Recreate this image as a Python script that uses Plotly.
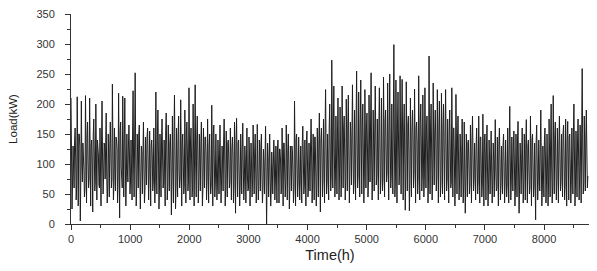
import numpy as np
import plotly.graph_objects as go

# Hourly load, sampled every 35 h as four readings: peak, core, trough, mid
step_h = 35
peaks = [
    210, 130, 160, 212, 150, 205, 120, 214, 170, 210,
    140, 175, 200, 120, 160, 205, 135, 185, 150, 170,
    233, 160, 140, 218, 170, 213, 210, 150, 165, 140,
    222, 252, 150, 165, 130, 170, 145, 160, 155, 140,
    160, 220, 190, 150, 175, 140, 185, 165, 150, 180,
    215, 160, 180, 207, 150, 190, 170, 227, 160, 200,
    232, 180, 150, 170, 160, 145, 175, 150, 198, 165,
    150, 140, 165, 130, 175, 155, 140, 160, 145, 170,
    176, 140, 150, 168, 130, 160, 145, 135, 165, 150,
    166, 140, 150, 125, 163, 135, 150, 120, 140, 130,
    140, 125, 160, 135, 165, 150, 130, 120, 205, 150,
    145, 130, 163, 140, 155, 135, 175, 150, 145, 160,
    185, 160, 175, 224, 150, 200, 273, 230, 180, 210,
    195, 230, 180, 208, 215, 170, 232, 190, 255, 220,
    240, 200, 224, 185, 215, 252, 190, 230, 175, 227,
    210, 245, 190, 235, 250, 200, 299, 240, 220, 247,
    241, 200, 237, 180, 210, 190, 225, 170, 247, 200,
    215, 227, 180, 280, 200, 235, 190, 224, 205, 218,
    200, 224, 175, 190, 227, 160, 216, 180, 150, 175,
    170, 150, 140, 165, 180, 135, 160, 180, 145, 183,
    150, 165, 140, 155, 135, 174, 145, 160, 130, 150,
    140, 160, 196, 145, 155, 150, 171, 135, 160, 150,
    174, 140, 180, 150, 135, 165, 140, 190, 130, 160,
    150, 175, 200, 214, 170, 160, 180, 150, 165, 175,
    171, 150, 160, 200, 155, 175, 165, 259, 180, 190,
]
troughs = [
    25, 60, 40, 30, 5, 70, 45, 35, 60, 30,
    20, 55, 40, 65, 30, 50, 75, 35, 45, 60,
    40, 55, 35, 10, 60, 45, 30, 70, 50, 40,
    45, 30, 60, 25, 50, 35, 65, 40, 30, 55,
    35, 50, 25, 45, 60, 30, 40, 55, 15, 35,
    25, 45, 60, 30, 50, 35, 55, 40, 45, 30,
    45, 35, 55, 30, 60, 40, 35, 50, 30, 45,
    40, 50, 35, 55, 30, 45, 60, 40, 35, 18,
    45, 30, 50, 40, 35, 55, 30, 45, 50, 35,
    40, 55, 35, 50, 0, 45, 30, 50, 40, 35,
    35, 50, 30, 45, 40, 25, 55, 35, 30, 45,
    40, 35, 50, 30, 45, 55, 35, 40, 30, 45,
    20, 45, 35, 50, 40, 55, 60, 45, 50, 40,
    45, 60, 40, 55, 35, 65, 50, 40, 60, 45,
    50, 35, 60, 45, 70, 40, 55, 65, 40, 50,
    55, 45, 70, 40, 60, 50, 45, 35, 65, 50,
    40, 23, 55, 22, 45, 60, 35, 50, 40, 55,
    45, 60, 35, 50, 40, 65, 55, 35, 45, 50,
    40, 55, 35, 60, 45, 30, 50, 40, 45, 35,
    18, 45, 50, 35, 55, 40, 50, 35, 45, 30,
    40, 30, 50, 35, 45, 55, 30, 40, 50, 35,
    45, 35, 40, 55, 30, 45, 18, 50, 35, 40,
    35, 50, 30, 45, 7, 40, 55, 30, 45, 35,
    30, 45, 35, 50, 40, 35, 55, 45, 40, 30,
    40, 35, 50, 30, 45, 40, 35, 50, 55, 60,
]
cores = [
    120, 95, 110, 85, 130, 100, 90, 125, 105, 95,
    100, 120, 90, 115, 95, 110, 130, 85, 105, 120,
    115, 90, 125, 100, 95, 130, 105, 90, 115, 100,
    95, 125, 105, 90, 120, 100, 85, 110, 95, 115,
    105, 90, 120, 100, 110, 85, 125, 95, 105, 90,
    115, 100, 90, 125, 105, 95, 120, 100, 110, 95,
    100, 120, 95, 110, 90, 115, 100, 85, 120, 105,
    95, 110, 85, 100, 120, 90, 105, 95, 115, 90,
    100, 85, 110, 95, 105, 80, 115, 95, 100, 90,
    95, 105, 85, 100, 90, 110, 80, 95, 105, 90,
    90, 105, 95, 85, 110, 95, 100, 85, 115, 95,
    100, 90, 110, 95, 105, 85, 115, 100, 90, 110,
    105, 120, 95, 130, 110, 125, 140, 115, 130, 120,
    125, 140, 115, 135, 120, 145, 125, 110, 140, 130,
    135, 120, 145, 125, 140, 115, 130, 150, 120, 135,
    130, 145, 125, 150, 135, 120, 145, 130, 140, 125,
    140, 115, 135, 120, 130, 145, 120, 135, 125, 140,
    125, 140, 115, 135, 120, 130, 140, 115, 125, 135,
    120, 130, 110, 125, 115, 105, 130, 110, 120, 100,
    95, 110, 100, 90, 115, 95, 105, 100, 90, 110,
    100, 90, 110, 95, 105, 90, 100, 110, 85, 100,
    95, 105, 110, 90, 100, 95, 85, 105, 95, 100,
    100, 90, 110, 95, 80, 105, 95, 100, 90, 110,
    100, 115, 95, 120, 105, 95, 115, 100, 110, 105,
    110, 95, 105, 120, 100, 115, 105, 125, 110, 120,
]
mids = [
    70, 140, 65, 150, 80, 135, 60, 145, 75, 130,
    150, 70, 140, 60, 135, 80, 145, 65, 130, 75,
    65, 145, 75, 155, 60, 140, 80, 130, 70, 150,
    140, 65, 150, 75, 135, 60, 145, 80, 130, 70,
    75, 150, 60, 140, 70, 155, 65, 135, 80, 145,
    60, 145, 75, 135, 65, 150, 70, 140, 60, 130,
    140, 70, 135, 60, 145, 75, 130, 65, 150, 70,
    65, 130, 75, 140, 60, 135, 70, 125, 65, 140,
    135, 65, 125, 70, 140, 60, 130, 75, 120, 65,
    65, 130, 60, 125, 70, 135, 60, 120, 70, 125,
    125, 60, 135, 70, 120, 65, 130, 60, 140, 70,
    70, 135, 65, 140, 60, 130, 70, 145, 65, 135,
    140, 75, 150, 70, 160, 80, 165, 75, 150, 85,
    80, 160, 75, 165, 85, 155, 70, 170, 80, 160,
    165, 80, 160, 75, 170, 85, 155, 80, 165, 75,
    75, 170, 85, 160, 80, 175, 75, 165, 85, 160,
    160, 80, 165, 70, 155, 85, 160, 75, 170, 80,
    80, 160, 75, 165, 85, 155, 80, 160, 70, 165,
    150, 75, 155, 70, 160, 80, 145, 70, 140, 65,
    70, 135, 65, 140, 75, 130, 70, 145, 65, 135,
    130, 65, 140, 70, 125, 60, 135, 65, 130, 70,
    65, 135, 70, 130, 60, 140, 65, 125, 70, 135,
    130, 60, 140, 65, 135, 70, 125, 60, 140, 70,
    70, 140, 65, 145, 75, 135, 70, 150, 65, 140,
    145, 70, 150, 65, 140, 75, 155, 70, 145, 80,
]

x_ticks = [0, 1000, 2000, 3000, 4000, 5000, 6000, 7000, 8000]
y_ticks = [0, 50, 100, 150, 200, 250, 300, 350]

n = len(peaks)
base = np.arange(n) * step_h
t = np.empty(4 * n)
v = np.empty(4 * n)
for k, arr in enumerate([peaks, cores, troughs, mids]):
    t[k::4] = base + k * step_h / 4
    v[k::4] = arr

fig = go.Figure()
fig.add_trace(go.Scatter(x=t, y=v, mode="lines",
                         line=dict(color="#1e1e1e", width=1.0),
                         showlegend=False, hoverinfo="skip"))

fam = "Liberation Sans, Arial, sans-serif"
font_tick = dict(family=fam, size=11, color="#333333")
fig.update_layout(
    width=597, height=271,
    margin=dict(l=71, r=8, t=10, b=47),
    paper_bgcolor="white", plot_bgcolor="white",
    font=font_tick,
)
fig.update_xaxes(
    range=[0, 8760], tickvals=x_ticks, ticktext=[str(x) for x in x_ticks],
    showgrid=False, zeroline=False, showline=True, linecolor="#333333", linewidth=1,
    ticks="outside", ticklen=5, tickcolor="#333333", tickfont=font_tick,
    minor=dict(dtick=500, tick0=0, ticks="outside", ticklen=3, tickcolor="#333333"),
    title=dict(text="Time(h)", font=dict(family=fam, size=14.5, color="#222222"), standoff=5),
)
fig.update_yaxes(
    range=[0, 350], tickvals=y_ticks, ticktext=[str(y) for y in y_ticks],
    showgrid=False, zeroline=False, showline=True, linecolor="#333333", linewidth=1,
    ticks="outside", ticklen=5, tickcolor="#333333", tickfont=font_tick,
    ticklabelstandoff=8,
    minor=dict(dtick=25, tick0=0, ticks="outside", ticklen=3, tickcolor="#333333"),
    title=dict(text="Load(kW)", font=dict(family=fam, size=11.5, color="#222222"), standoff=16),
)

fig.write_html("out.html")
